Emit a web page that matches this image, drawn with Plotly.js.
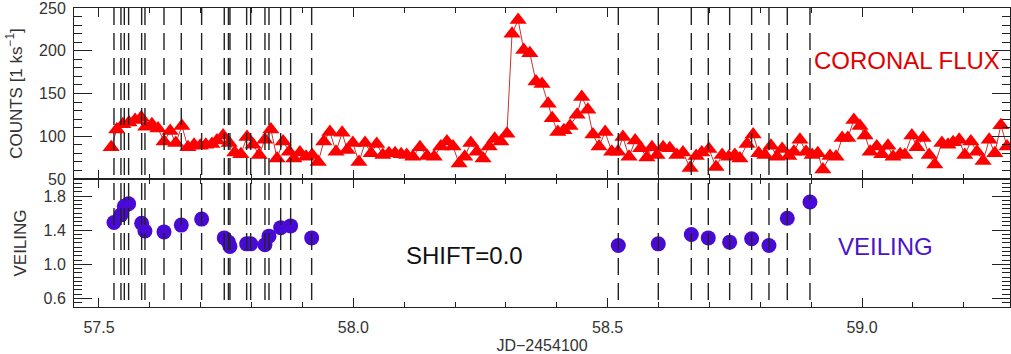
<!DOCTYPE html>
<html>
<head>
<meta charset="utf-8">
<script src="https://cdn.plot.ly/plotly-3.0.1.min.js"></script>
<style>
  html, body { margin: 0; padding: 0; background: #fff; }
  #chart { width: 1011px; height: 354px; }
</style>
</head>
<body>
<div id="chart"></div>
<script>
// ---- Coronal flux (top panel): time (JD-2454100) and counts per 1 ks bin ----
const fluxTime = [
  57.524, 57.535, 57.547, 57.559, 57.571, 57.583, 57.592, 57.604, 57.616, 57.628,
  57.640, 57.651, 57.663, 57.675, 57.687, 57.699, 57.710, 57.722, 57.732, 57.744,
  57.756, 57.767, 57.779, 57.791, 57.803, 57.815, 57.826, 57.838, 57.850, 57.862,
  57.874, 57.883, 57.895, 57.907, 57.919, 57.931, 57.942, 57.954, 57.966, 57.978,
  57.988, 57.999, 58.011, 58.023, 58.035, 58.046, 58.058, 58.070, 58.082, 58.094,
  58.105, 58.117, 58.131, 58.145, 58.159, 58.172, 58.184, 58.196, 58.208, 58.219,
  58.231, 58.243, 58.255, 58.267, 58.278, 58.290, 58.302, 58.312, 58.324, 58.335,
  58.347, 58.359, 58.371, 58.383, 58.391, 58.402, 58.414, 58.426, 58.440, 58.449,
  58.461, 58.471, 58.483, 58.495, 58.508, 58.520, 58.530, 58.542, 58.554, 58.565,
  58.577, 58.587, 58.597, 58.609, 58.622, 58.636, 58.648, 58.662, 58.674, 58.685,
  58.699, 58.713, 58.725, 58.738, 58.750, 58.760, 58.774, 58.786, 58.797, 58.809,
  58.821, 58.833, 58.843, 58.856, 58.866, 58.878, 58.890, 58.902, 58.913, 58.923,
  58.937, 58.949, 58.961, 58.972, 58.984, 58.996, 59.006, 59.016, 59.029, 59.039,
  59.051, 59.061, 59.075, 59.084, 59.098, 59.108, 59.120, 59.132, 59.143, 59.157,
  59.169, 59.179, 59.191, 59.202, 59.214, 59.226, 59.238, 59.250, 59.261, 59.273,
  59.285
];
const fluxCounts = [
   87, 108, 114, 116, 119, 122, 111, 114, 109,  94,
  106,  92, 112,  87,  90,  89,  90,  91,  95, 101,
   92,  81,  79,  99,  90,  78,  96, 108,  74,  94,
   82,  74,  81,  76,  78,  70,  94, 105,  82, 104,
   84,  92,  70,  92,  80,  91,  78,  80,  80,  79,
   78,  76,  87,  77,  76,  88,  94,  88,  68,  76,
   92,  82,  74,  88,  97,  94, 103, 220, 236, 201,
  197, 164, 161, 138, 121, 105, 107, 112, 125, 146,
  131, 102,  88, 105,  82,  82,  99,  76,  95,  86,
   75,  87,  78,  87,  86,  78,  81,  63,  77,  81,
   85,  64,  78,  76,  78,  74,  91, 102,  80,  78,
   89,  76,  85,  77,  82,  96,  82,  78,  80,  61,
   77,  76,  98,  98, 119, 112, 101,  82,  88,  79,
   89,  76,  79,  78, 101,  87,  98,  78,  67,  92,
   90,  93,  96,  78,  94,  82,  71,  96,  80, 113,
   88
];

// ---- Veiling (bottom panel): observation times and veiling values ----
const veilTime = [
  57.5295, 57.5432, 57.5498, 57.5583, 57.5839, 57.5904, 57.6278, 57.6618, 57.7018, 57.7463,
  57.7545, 57.7575, 57.7903, 57.7982, 57.8263, 57.8342, 57.8572, 57.8768, 57.9181,
  58.5209, 58.5995, 58.6644, 58.6978, 58.7398, 58.7830, 58.8171, 58.8531, 58.8977
];
const veilValue = [
  1.49, 1.58, 1.68, 1.71, 1.48, 1.39, 1.38, 1.46, 1.53, 1.31,
  1.26, 1.21, 1.24, 1.24, 1.23, 1.33, 1.43, 1.45, 1.31,
  1.22, 1.24, 1.35, 1.31, 1.26, 1.30, 1.22, 1.54, 1.73
];

// ---- Axis tick labels ----
const xTickVals = [57.5, 58.0, 58.5, 59.0];
const xTickText = ["57.5", "58.0", "58.5", "59.0"];
const fluxTickVals = [50, 100, 150, 200, 250];
const fluxTickText = ["50", "100", "150", "200", "250"];
const veilTickVals = [0.6, 1.0, 1.4, 1.8];
const veilTickText = ["0.6", "1.0", "1.4", "1.8"];

const FONT = "Liberation Sans, Arial, Helvetica, sans-serif";
const AXC = "#222";
const xRange = [57.4509, 59.2909];

const traces = [
  {
    x: fluxTime, y: fluxCounts, xaxis: "x2", yaxis: "y2",
    type: "scatter", mode: "lines+markers",
    line: { color: "rgb(200,50,50)", width: 1 },
    marker: { symbol: "triangle-up", size: 15, color: "#ff0000", line: { width: 0 } },
    hoverinfo: "x+y", showlegend: false
  },
  {
    x: veilTime, y: veilValue, xaxis: "x", yaxis: "y",
    type: "scatter", mode: "markers",
    marker: { symbol: "circle", size: 15, color: "#4a0ad6", line: { width: 0 } },
    hoverinfo: "x+y", showlegend: false
  }
];

const commonAxis = {
  showline: true, linecolor: AXC, linewidth: 1,
  mirror: "allticks", ticks: "inside", tickcolor: AXC, tickwidth: 1,
  showgrid: false, zeroline: false,
  ticklabeloverflow: "allow",
  tickfont: { family: FONT, size: 16, color: "#333" }
};

const shapes = veilTime.map(t => ({
  type: "line", xref: "x", yref: "paper",
  x0: t, x1: t, y0: 1, y1: 0,
  line: { color: "#222", width: 1.4, dash: "17px,8px" },
  layer: "above"
}));

const layout = {
  width: 1011, height: 354,
  margin: { l: 74, r: 1, t: 8, b: 47, pad: 0 },
  paper_bgcolor: "#fff", plot_bgcolor: "#fff",
  font: { family: FONT, color: "#222" },
  showlegend: false,
  xaxis: Object.assign({}, commonAxis, {
    anchor: "y", domain: [0, 1], range: xRange,
    tickmode: "array", tickvals: xTickVals, ticktext: xTickText,
    ticklen: 9, ticklabelstandoff: 6,
    minor: { dtick: 0.1, tick0: 57.5, ticklen: 5, ticks: "inside", tickcolor: AXC, showgrid: false },
    title: { text: "JD\u22122454100", font: { family: FONT, size: 16, color: "#333" }, standoff: 4 }
  }),
  xaxis2: Object.assign({}, commonAxis, {
    anchor: "y2", domain: [0, 1], range: xRange, matches: "x",
    showticklabels: false,
    tickmode: "array", tickvals: xTickVals,
    ticklen: 9,
    minor: { dtick: 0.1, tick0: 57.5, ticklen: 5, ticks: "inside", tickcolor: AXC, showgrid: false }
  }),
  yaxis: Object.assign({}, commonAxis, {
    anchor: "x", domain: [0, 0.4281], range: [0.5, 2.0],
    tickmode: "array", tickvals: veilTickVals, ticktext: veilTickText,
    ticklen: 18, ticklabelstandoff: 4,
    minor: { dtick: 0.05, tick0: 0.5, ticklen: 8, ticks: "inside", tickcolor: AXC, showgrid: false },
    title: { text: "VEILING", font: { family: FONT, size: 17, color: "#333" }, standoff: 12 }
  }),
  yaxis2: Object.assign({}, commonAxis, {
    anchor: "x2", domain: [0.4281, 1], range: [50, 250],
    tickmode: "array", tickvals: fluxTickVals, ticktext: fluxTickText,
    ticklen: 18, ticklabelstandoff: 4,
    minor: { dtick: 10, tick0: 50, ticklen: 8, ticks: "inside", tickcolor: AXC, showgrid: false },
    title: { text: "COUNTS [1 ks<sup>\u22121</sup>]", font: { family: FONT, size: 17, color: "#333" }, standoff: 12 }
  }),
  shapes: shapes,
  annotations: [
    { text: "CORONAL FLUX", xref: "paper", yref: "paper", x: 0.89, y: 0.826,
      xanchor: "center", yanchor: "middle", showarrow: false,
      font: { family: FONT, size: 24, color: "#e00000" } },
    { text: "VEILING", xref: "paper", yref: "paper", x: 0.8675, y: 0.2007,
      xanchor: "center", yanchor: "middle", showarrow: false,
      font: { family: FONT, size: 24, color: "#4a14c8" } },
    { text: "SHIFT=0.0", xref: "paper", yref: "paper", x: 0.4177, y: 0.1706,
      xanchor: "center", yanchor: "middle", showarrow: false,
      font: { family: FONT, size: 24, color: "#111" } }
  ]
};

Plotly.newPlot("chart", traces, layout, { staticPlot: true, displayModeBar: false });
</script>
</body>
</html>
